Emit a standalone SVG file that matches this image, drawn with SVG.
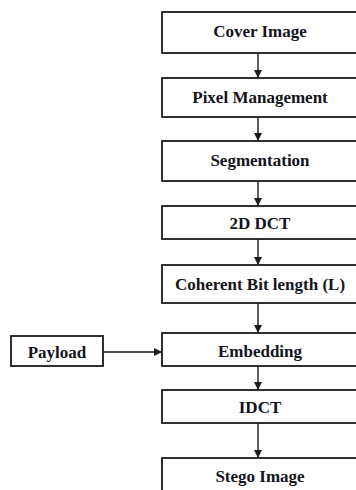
<svg xmlns="http://www.w3.org/2000/svg" width="356" height="490" viewBox="0 0 356 490">
<defs>
<style>
.box{fill:#fff;stroke:#1a1a1a;stroke-width:1.8}
.lbl{font-family:"Liberation Serif","Times New Roman",serif;font-weight:bold;font-size:17px;fill:#141420;text-anchor:middle;dominant-baseline:central}
.con{stroke:#1a1a1a;stroke-width:1.4;fill:none;marker-end:url(#ah)}
</style>
<marker id="ah" viewBox="0 0 10 10" refX="10" refY="5" markerWidth="8" markerHeight="8" markerUnits="userSpaceOnUse" orient="auto">
<path d="M0,0 L10,5 L0,10 Z" fill="#1a1a1a"/>
</marker>
</defs>
<rect width="356" height="490" fill="#fff"/>
<g id="connectors">
<line class="con" x1="258" y1="53" x2="258" y2="78"/>
<line class="con" x1="258" y1="117" x2="258" y2="141"/>
<line class="con" x1="258" y1="181" x2="258" y2="206"/>
<line class="con" x1="258" y1="239" x2="258" y2="265"/>
<line class="con" x1="258" y1="303" x2="258" y2="333"/>
<line class="con" x1="258" y1="366" x2="258" y2="390"/>
<line class="con" x1="258" y1="423" x2="258" y2="458"/>
<line class="con" x1="103" y1="352" x2="162" y2="352"/>
</g>
<g id="cover"><rect class="box" x="162" y="12" width="198" height="41"/><text class="lbl" x="260" y="31">Cover Image</text></g>
<g id="pixel"><rect class="box" x="162" y="78" width="198" height="39"/><text class="lbl" x="260" y="97">Pixel Management</text></g>
<g id="segmentation"><rect class="box" x="162" y="141" width="198" height="40"/><text class="lbl" x="260" y="160">Segmentation</text></g>
<g id="dct"><rect class="box" x="162" y="206" width="198" height="33"/><text class="lbl" x="260" y="223">2D DCT</text></g>
<g id="coherent"><rect class="box" x="162" y="265" width="198" height="38"/><text class="lbl" x="260" y="284">Coherent Bit length (L)</text></g>
<g id="embedding"><rect class="box" x="162" y="333" width="198" height="33"/><text class="lbl" x="260" y="351">Embedding</text></g>
<g id="idct"><rect class="box" x="162" y="390" width="198" height="33"/><text class="lbl" x="260" y="407">IDCT</text></g>
<g id="stego"><rect class="box" x="162" y="458" width="198" height="50"/><text class="lbl" x="260" y="476">Stego Image</text></g>
<g id="payload"><rect class="box" x="11" y="336" width="92" height="30"/><text class="lbl" x="57" y="352">Payload</text></g>
</svg>
